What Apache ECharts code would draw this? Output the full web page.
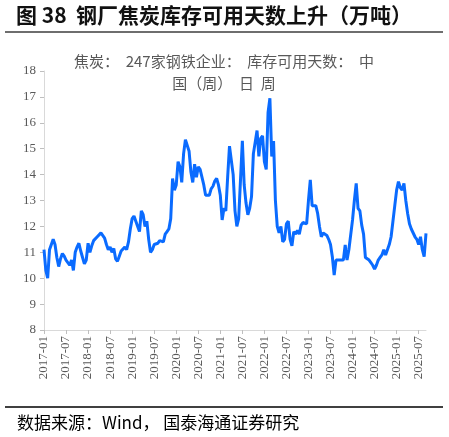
<!DOCTYPE html>
<html>
<head>
<meta charset="utf-8">
<script src="https://cdn.jsdelivr.net/npm/echarts@6/dist/echarts.min.js"></script>
<style>
html,body{margin:0;padding:0;background:#fff;}
#c{width:449px;height:437px;}
</style>
</head>
<body>
<div id="c"></div>
<script>
// Semi-monthly readings (1st and 16th of each month), 2017-01 .. 2025-09
const v2017 = [11.1, 10.3, 10.0, 11.1, 11.1, 11.5, 11.3, 10.8, 10.45, 10.75, 10.95, 10.85, 10.7, 10.7, 10.5, 10.7, 10.3, 11.0, 11.2, 11.35, 11.05, 10.8, 10.55, 10.7];
const v2018 = [11.35, 11.0, 11.25, 11.45, 11.5, 11.6, 11.6, 11.75, 11.75, 11.55, 11.3, 11.1, 11.2, 11.0, 11.15, 10.75, 10.65, 10.85, 11.05, 11.1, 11.2, 11.1, 11.4, 11.9];
const v2019 = [12.3, 12.4, 12.45, 12.0, 11.8, 12.6, 12.45, 12.0, 12.2, 11.5, 11.0, 11.1, 11.3, 11.35, 11.35, 11.45, 11.4, 11.4, 11.7, 11.8, 11.9, 12.3, 13.85, 13.4];
const v2020 = [13.6, 14.5, 14.3, 13.7, 14.8, 15.35, 15.3, 14.9, 14.1, 13.7, 14.4, 13.9, 14.3, 14.2, 14.2, 13.6, 13.2, 13.15, 13.2, 13.45, 13.55, 13.75, 13.85, 13.6];
const v2021 = [13.2, 12.25, 12.7, 12.6, 13.9, 15.1, 15.1, 14.0, 12.6, 12.0, 12.3, 12.3, 15.3, 13.6, 12.9, 12.45, 12.7, 13.15, 14.8, 14.8, 15.7, 14.7, 15.4, 15.5];
const v2022 = [14.5, 14.2, 16.4, 16.95, 14.7, 15.3, 13.0, 12.0, 11.75, 12.0, 11.4, 11.5, 12.1, 12.2, 11.5, 11.25, 11.8, 11.7, 11.85, 11.7, 12.05, 12.15, 12.1, 12.1];
const v2023 = [13.0, 13.8, 12.8, 12.85, 12.8, 12.5, 12.0, 11.6, 11.75, 11.7, 11.65, 11.5, 11.3, 10.83, 10.12, 10.7, 10.75, 10.7, 10.64, 10.7, 11.28, 10.7, 11.1, 11.1];
const v2024 = [12.25, 13.0, 13.66, 12.7, 12.6, 12.05, 11.7, 10.8, 10.8, 10.7, 10.6, 10.5, 10.35, 10.5, 10.7, 10.8, 10.9, 11.1, 10.9, 11.1, 11.3, 11.6, 12.2, 12.8];
const v2025 = [13.4, 13.73, 13.5, 13.4, 13.66, 13.0, 12.5, 12.1, 11.9, 11.85, 11.6, 11.5, 11.3, 11.6, 11.1, 10.83, 11.73];

const values = [].concat(v2017, v2018, v2019, v2020, v2021, v2022, v2023, v2024, v2025);

// category dates (semi-monthly)
const dates = [];
for (let k = 0; k < values.length; k++) {
  const mi = Math.floor(k / 2);
  const y = 2017 + Math.floor(mi / 12);
  const m = (mi % 12) + 1;
  dates.push(y + '-' + (m < 10 ? '0' + m : m) + '-' + (k % 2 ? '16' : '01'));
}

const titleText = '图 38  钢厂焦炭库存可用天数上升（万吨）';
const seriesName = '焦炭：247家钢铁企业：库存可用天数：中国（周）日 周';
const nameLine1 = '焦炭：  247家钢铁企业：  库存可用天数：  中';
const nameLine2 = '国（周）  日  周';
const sourceText = '数据来源：Wind， 国泰海通证券研究';

const chart = echarts.init(document.getElementById('c'), null, {renderer: 'canvas'});
chart.setOption({
  backgroundColor: '#fff',
  animation: false,
  grid: {left: 44, right: 23, top: 71, bottom: 107, containLabel: false},
  xAxis: {
    type: 'category',
    boundaryGap: false,
    data: dates,
    axisLine: {lineStyle: {color: '#d9d9d9', width: 1}},
    axisTick: {show: true, interval: 11, length: 4, lineStyle: {color: '#bfbfbf'}},
    axisLabel: {
      interval: 11, rotate: 90, margin: 6,
      color: '#595959', fontFamily: 'Liberation Serif', fontSize: 13,
      formatter: function (v) { return v.slice(0, 7); }
    },
    splitLine: {show: false}
  },
  yAxis: {
    type: 'value', min: 8, max: 18, interval: 1,
    axisLine: {show: true, lineStyle: {color: '#d9d9d9', width: 1}},
    axisTick: {show: true, length: 4, lineStyle: {color: '#bfbfbf'}},
    axisLabel: {color: '#595959', fontFamily: 'Liberation Serif', fontSize: 13, margin: 8},
    splitLine: {show: false}
  },
  series: [{
    name: seriesName,
    type: 'line',
    data: values,
    showSymbol: false,
    symbol: 'none',
    lineStyle: {color: '#0a6bff', width: 3},
    itemStyle: {color: '#0a6bff'}
  }],
  graphic: [
    {type: 'text', left: 16, top: 5, style: {text: titleText, fill: '#111', font: 'bold 21px "Noto Sans CJK SC"'}},
    {type: 'line', shape: {x1: 5, y1: 32, x2: 443, y2: 32}, style: {stroke: '#6e6e6e', lineWidth: 2}},
    {type: 'text', x: 224, y: 54, style: {text: nameLine1, fill: '#595959', font: '15px "Noto Sans CJK SC"', textAlign: 'center'}},
    {type: 'text', x: 224, y: 76, style: {text: nameLine2, fill: '#595959', font: '15px "Noto Sans CJK SC"', textAlign: 'center'}},
    {type: 'line', shape: {x1: 5, y1: 407, x2: 443, y2: 407}, style: {stroke: '#000', lineWidth: 1.5}},
    {type: 'text', left: 17, top: 414, style: {text: sourceText, fill: '#000', font: '17px "Noto Sans CJK SC"'}}
  ]
});
</script>
</body>
</html>
